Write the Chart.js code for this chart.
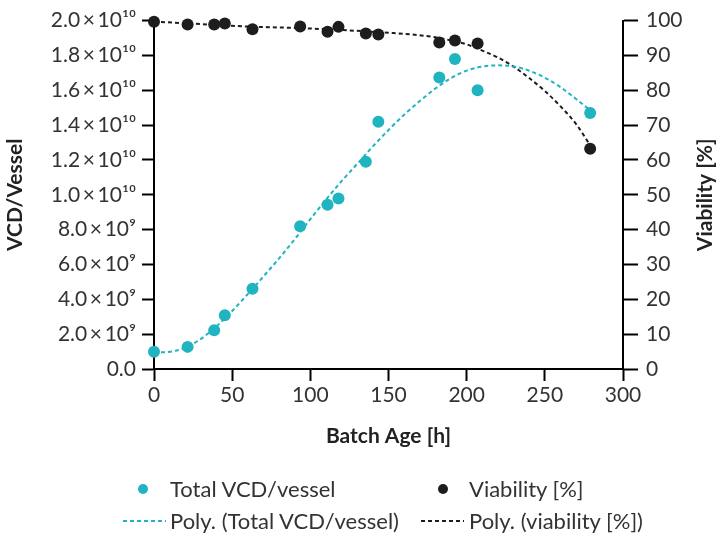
<!DOCTYPE html>
<html>
<head>
<meta charset="utf-8">
<script src="https://cdn.jsdelivr.net/npm/chart.js@4.4.1/dist/chart.umd.min.js"></script>
<style>
  html, body { margin: 0; padding: 0; background: #fff; }
  #wrap { position: relative; width: 716px; height: 536px; font-family: Lato, sans-serif; color: #333; }
  #chart { position: absolute; left: 0; top: 0; }
  .legend-swatch { position: absolute; }
  .legend-text { position: absolute; font-size: 22px; line-height: 26px; white-space: nowrap; }
</style>
</head>
<body>
<div id="wrap">
  <canvas id="chart" width="716" height="536"></canvas>
  <div id="custom-legend"></div>
</div>
<script>
// measured points (batch age in hours)
const batchAge = [0, 21.5, 38.5, 45.3, 63, 93.5, 111, 118, 135.5, 143.5, 182.5, 192.5, 207, 279];
const totalVcd = [0.99e9, 1.27e9, 2.23e9, 3.09e9, 4.61e9, 8.19e9, 9.43e9, 9.79e9, 11.9e9, 14.19e9, 16.74e9, 17.79e9, 16.0e9, 14.69e9];
const viability = [99.7, 98.9, 98.9, 99.2, 97.5, 98.3, 96.8, 98.2, 96.3, 96.0, 93.7, 94.3, 93.4, 63.2];

// trend lines
const vcdTrendAge = [0, 10, 20, 30, 40, 50, 60, 70, 80, 90, 100, 110, 120, 130, 140, 150, 160, 170, 180, 190, 200, 210, 220, 230, 240, 250, 260, 270, 279];
const vcdTrend = [0.95e9, 0.99e9, 1.22e9, 1.73e9, 2.45e9, 3.33e9, 4.30e9, 5.31e9, 6.35e9, 7.45e9, 8.60e9, 9.72e9, 10.78e9, 11.78e9, 12.78e9, 13.72e9, 14.6e9, 15.38e9, 16.1e9, 16.7e9, 17.13e9, 17.36e9, 17.43e9, 17.37e9, 17.12e9, 16.72e9, 16.18e9, 15.5e9, 14.85e9];
const viaTrendAge = [0, 30, 60, 90, 120, 150, 165, 180, 190, 200, 210, 220, 230, 240, 250, 260, 270, 279];
const viaTrend = [99.7, 99.0, 98.3, 97.9, 97.3, 96.5, 96.0, 95.2, 94.3, 93.2, 91.4, 89.4, 86.8, 83.5, 79.8, 75.4, 70.3, 64.2];

const xTicks = [0, 50, 100, 150, 200, 250, 300];

const teal = '#1fb4bf';
const dark = '#1d1d1d';
const textColor = '#333333';
const fontFamily = 'Lato, sans-serif';

const toPoints = (xs, ys) => xs.map((x, i) => ({ x: x, y: ys[i] }));

const sup = { '0': '⁰', '1': '¹', '2': '²', '3': '³', '4': '⁴', '5': '⁵', '6': '⁶', '7': '⁷', '8': '⁸', '9': '⁹' };
const sciLabel = (v) => {
  if (v === 0) return '0.0';
  const exp = Math.floor(Math.log10(v) + 1e-9);
  const mant = v / Math.pow(10, exp);
  return mant.toFixed(1) + '\u2009×\u200910' + String(exp).split('').map(d => sup[d]).join('');
};

Chart.defaults.font.family = fontFamily;
Chart.defaults.font.size = 21;
Chart.defaults.color = textColor;

const axisGrid = (len) => ({
  drawOnChartArea: false,
  drawTicks: true,
  tickLength: len,
  tickWidth: 2,
  tickColor: '#000',
  color: '#000'
});

const rightTitle = {
  id: 'rightTitle',
  afterDraw(chart) {
    const c = chart.ctx;
    const area = chart.chartArea;
    c.save();
    c.translate(705, (area.top + area.bottom) / 2);
    c.rotate(-Math.PI / 2);
    c.font = 'bold 21px ' + fontFamily;
    c.fillStyle = '#222';
    c.textAlign = 'center';
    c.textBaseline = 'middle';
    c.fillText('Viability [%]', 0, 0);
    c.restore();
  }
};

const ctx = document.getElementById('chart').getContext('2d');
new Chart(ctx, {
  type: 'scatter',
  data: {
    datasets: [
      {
        label: 'Total VCD/vessel',
        data: toPoints(batchAge, totalVcd),
        yAxisID: 'y',
        backgroundColor: teal,
        borderColor: teal,
        pointRadius: 6,
        borderWidth: 0,
        clip: false,
        order: 0
      },
      {
        label: 'Viability [%]',
        data: toPoints(batchAge, viability),
        yAxisID: 'y2',
        backgroundColor: dark,
        borderColor: dark,
        pointRadius: 6,
        borderWidth: 0,
        clip: false,
        order: 0
      },
      {
        type: 'line',
        label: 'Poly. (Total VCD/vessel)',
        data: toPoints(vcdTrendAge, vcdTrend),
        yAxisID: 'y',
        borderColor: teal,
        borderWidth: 2,
        borderDash: [4, 3],
        pointRadius: 0,
        fill: false,
        cubicInterpolationMode: 'monotone',
        order: 1
      },
      {
        type: 'line',
        label: 'Poly. (viability [%])',
        data: toPoints(viaTrendAge, viaTrend),
        yAxisID: 'y2',
        borderColor: dark,
        borderWidth: 2,
        borderDash: [4, 3],
        pointRadius: 0,
        fill: false,
        cubicInterpolationMode: 'monotone',
        order: 1
      }
    ]
  },
  options: {
    responsive: false,
    animation: false,
    layout: { padding: { top: 17, bottom: 87, left: 0, right: 0 } },
    plugins: { legend: { display: false }, tooltip: { enabled: false } },
    scales: {
      x: {
        type: 'linear',
        min: 0,
        max: 300,
        afterBuildTicks: (s) => { s.ticks = xTicks.map(v => ({ value: v })); },
        ticks: { padding: 2, color: textColor },
        grid: axisGrid(12),
        border: { color: '#000', width: 2 },
        title: { display: true, text: 'Batch Age [h]', color: '#222', font: { weight: 'bold', size: 21 }, padding: 0 },
        afterFit: (s) => { s.height = 80; }
      },
      y: {
        position: 'left',
        min: 0,
        max: 2e10,
        ticks: { stepSize: 2e9, padding: 6, color: textColor, callback: (v) => sciLabel(v) },
        grid: axisGrid(12),
        border: { color: '#000', width: 2 },
        title: { display: true, text: 'VCD/Vessel', color: '#222', font: { weight: 'bold', size: 21 }, padding: { top: 3, bottom: 0 } },
        afterFit: (s) => { s.width = 154; }
      },
      y2: {
        position: 'right',
        min: 0,
        max: 100,
        ticks: { stepSize: 10, padding: 8, color: textColor },
        grid: axisGrid(15),
        border: { color: '#000', width: 2 },
        afterFit: (s) => { s.width = 93; }
      }
    }
  },
  plugins: [rightTitle]
});

// legend below the plot
const legendItems = [
  { kind: 'dot', color: teal, sx: 143, tx: 170, y: 489, text: 'Total VCD/vessel' },
  { kind: 'dot', color: dark, sx: 443, tx: 469, y: 489, text: 'Viability [%]' },
  { kind: 'dash', color: teal, sx: 145, tx: 170, y: 521, text: 'Poly. (Total VCD/vessel)' },
  { kind: 'dash', color: dark, sx: 443, tx: 469, y: 521, text: 'Poly. (viability [%])' }
];
const legendContainer = document.getElementById('custom-legend');
legendItems.forEach((item) => {
  const sw = document.createElementNS('http://www.w3.org/2000/svg', 'svg');
  sw.setAttribute('class', 'legend-swatch');
  sw.setAttribute('width', '44');
  sw.setAttribute('height', '12');
  sw.style.left = (item.sx - 22) + 'px';
  sw.style.top = (item.y - 6) + 'px';
  if (item.kind === 'dot') {
    sw.innerHTML = '<circle cx="22" cy="6" r="5" fill="' + item.color + '"/>';
  } else {
    sw.innerHTML = '<line x1="0" y1="6" x2="43" y2="6" stroke="' + item.color + '" stroke-width="2" stroke-dasharray="4 3"/>';
  }
  legendContainer.appendChild(sw);
  const t = document.createElement('div');
  t.className = 'legend-text';
  t.style.left = item.tx + 'px';
  t.style.top = (item.y - 13) + 'px';
  t.innerText = item.text;
  legendContainer.appendChild(t);
});
</script>
</body>
</html>
